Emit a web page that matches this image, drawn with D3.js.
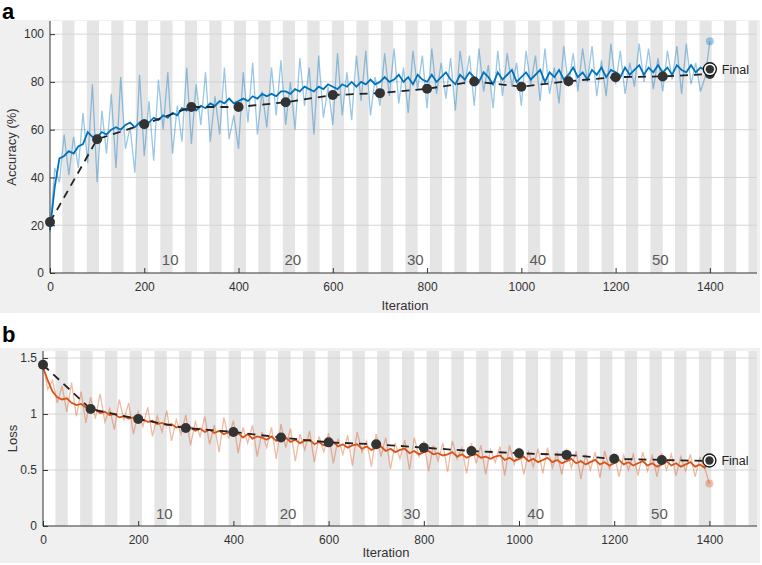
<!DOCTYPE html>
<html>
<head>
<meta charset="utf-8">
<script src="https://cdn.jsdelivr.net/npm/d3@7"></script>
<style>
  body { margin: 0; background: #fff; font-family: "Liberation Sans", Arial, sans-serif; }
</style>
</head>
<body>
<div id="chart"></div>
<script>
// one value every 10 iterations, iteration 0..1400
const iterStep = 10;

const accRaw = [
  17, 44, 38, 58, 41, 57, 44, 67, 46, 79, 38,
  68, 50, 75, 44, 82, 52, 61, 42, 83, 49,
  72, 47, 81, 60, 84, 50, 70, 55, 86, 54,
  79, 62, 84, 55, 74, 58, 86, 56, 66, 52,
  84, 63, 88, 58, 76, 61, 86, 66, 89, 62,
  80, 60, 90, 70, 86, 58, 91, 65, 78, 62,
  92, 66, 84, 64, 91, 72, 93, 66, 82, 70,
  92, 74, 94, 71, 86, 67, 93, 77, 91, 69,
  94, 75, 88, 73, 90, 68, 93, 79, 91, 70,
  94, 76, 87, 69, 93, 74, 92, 78, 88, 70,
  93, 79, 91, 72, 94, 75, 86, 71, 95, 78,
  92, 76, 94, 80, 95, 74, 89, 74, 96, 79,
  93, 75, 88, 78, 96, 80, 94, 77, 90, 76,
  93, 81, 95, 75, 96, 79, 88, 76, 82, 97
];

const accSmooth = [
  18, 36, 48, 49, 51, 50, 53, 54, 59, 57, 57,
  59, 58, 60, 61, 60, 62, 63, 61, 63, 64,
  63, 65, 64, 66, 65, 67, 66, 69, 68, 70,
  68, 70, 69, 71, 70, 72, 71, 73, 71, 72,
  73, 72, 74, 73, 75, 74, 75, 74, 76, 76,
  75, 77, 76, 78, 77, 76, 78, 77, 79, 78,
  77, 79, 78, 80, 78, 80, 79, 81, 79, 80,
  82, 80, 81, 83, 80, 82, 79, 83, 81, 80,
  83, 80, 82, 84, 81, 79, 83, 81, 84, 82,
  80, 84, 82, 79, 84, 81, 83, 85, 80, 82,
  84, 81, 83, 85, 80, 84, 82, 85, 81, 83,
  86, 82, 84, 81, 85, 83, 86, 82, 85, 84,
  82, 86, 83, 85, 87, 83, 86, 84, 87, 84,
  86, 83, 87, 85, 84, 87, 84, 86, 85, 84
];

const lossRaw = [
  1.45, 1.22, 1.30, 1.10, 1.25, 1.02, 1.28, 0.98, 1.20, 0.92, 1.15,
  0.96, 1.18, 0.93, 1.05, 0.86, 1.13, 0.95, 1.10, 0.82, 1.02,
  0.89, 1.06, 0.80, 0.98, 0.84, 1.03, 0.76, 0.95, 0.82, 0.99,
  0.72, 0.93, 0.80, 0.98, 0.73, 0.90, 0.66, 0.97, 0.78, 0.94,
  0.65, 0.88, 0.74, 0.90, 0.62, 0.84, 0.70, 0.88, 0.60, 0.91,
  0.70, 0.87, 0.58, 0.82, 0.68, 0.85, 0.57, 0.80, 0.66, 0.83,
  0.56, 0.78, 0.64, 0.81, 0.54, 0.84, 0.66, 0.76, 0.53, 0.82,
  0.62, 0.79, 0.51, 0.74, 0.60, 0.77, 0.50, 0.79, 0.62, 0.76,
  0.49, 0.72, 0.58, 0.74, 0.48, 0.76, 0.60, 0.70, 0.47, 0.74,
  0.56, 0.72, 0.46, 0.68, 0.57, 0.71, 0.45, 0.72, 0.55, 0.70,
  0.46, 0.66, 0.53, 0.69, 0.47, 0.70, 0.52, 0.65, 0.46, 0.69,
  0.52, 0.67, 0.42, 0.64, 0.50, 0.66, 0.43, 0.67, 0.51, 0.65,
  0.44, 0.63, 0.50, 0.64, 0.45, 0.66, 0.49, 0.63, 0.44, 0.65,
  0.50, 0.64, 0.45, 0.62, 0.49, 0.64, 0.44, 0.61, 0.52, 0.38
];

const lossSmooth = [
  1.42, 1.30, 1.20, 1.15, 1.13, 1.14, 1.10, 1.08, 1.09, 1.06, 1.03,
  1.04, 1.01, 1.02, 0.99, 1.00, 0.97, 0.98, 0.96, 0.97, 0.94,
  0.95, 0.93, 0.94, 0.91, 0.92, 0.90, 0.91, 0.88, 0.89, 0.86,
  0.88, 0.85, 0.87, 0.84, 0.86, 0.83, 0.85, 0.82, 0.84, 0.81,
  0.83, 0.79, 0.82, 0.78, 0.80, 0.79, 0.77, 0.80, 0.76, 0.78,
  0.79, 0.75, 0.77, 0.74, 0.76, 0.77, 0.73, 0.75, 0.72, 0.74,
  0.75, 0.71, 0.73, 0.70, 0.72, 0.73, 0.69, 0.71, 0.68, 0.70,
  0.71, 0.67, 0.69, 0.66, 0.68, 0.69, 0.65, 0.67, 0.64, 0.66,
  0.67, 0.64, 0.65, 0.63, 0.64, 0.66, 0.62, 0.64, 0.61, 0.63,
  0.64, 0.61, 0.62, 0.60, 0.62, 0.63, 0.59, 0.61, 0.58, 0.60,
  0.62, 0.58, 0.60, 0.57, 0.59, 0.61, 0.57, 0.59, 0.56, 0.58,
  0.60, 0.56, 0.58, 0.55, 0.57, 0.59, 0.55, 0.57, 0.54, 0.56,
  0.59, 0.55, 0.57, 0.54, 0.56, 0.58, 0.54, 0.56, 0.53, 0.55,
  0.58, 0.54, 0.56, 0.53, 0.55, 0.57, 0.53, 0.55, 0.52, 0.57
];

const valIter = [0, 100, 200, 300, 400, 500, 600, 700, 800, 900, 1000, 1100, 1200, 1300, 1400];
const valAcc = [21.3, 56, 62.3, 69.5, 69.5, 71.5, 74.5, 75.3, 77.1, 80.2, 78, 80.3, 82, 82.3, 83.3];
const valLoss = [1.44, 1.045, 0.955, 0.875, 0.84, 0.79, 0.747, 0.73, 0.70, 0.67, 0.65, 0.635, 0.60, 0.59, 0.58];

const finalIter = 1400;
const finalAcc = 85.3;
const finalLoss = 0.585;

const itersPerEpoch = 26;
const epochLabels = [10, 20, 30, 40, 50];
const xTicks = [0, 200, 400, 600, 800, 1000, 1200, 1400];
const accTicks = [0, 20, 40, 60, 80, 100];
const lossTicks = [0, 0.5, 1, 1.5];
const lossTickLabels = ["0", "0.5", "1", "1.5"];

const width = 762, height = 565;
const svg = d3.select("#chart").append("svg")
  .attr("width", width)
  .attr("height", height);

function drawPanel(p) {
  const g = svg.append("g");

  // figure background
  g.append("rect")
    .attr("x", 0).attr("y", p.bgTop)
    .attr("width", 760).attr("height", p.bgBottom - p.bgTop)
    .attr("fill", "#f0f0f0");

  const x = d3.scaleLinear().domain([0, 1500]).range([p.left, p.right]);
  const y = d3.scaleLinear().domain(p.yDomain).range([p.bottom, p.top]);

  g.append("rect")
    .attr("x", p.left).attr("y", p.top)
    .attr("width", p.right - p.left).attr("height", p.bottom - p.top)
    .attr("fill", "#fff");

  // epoch shading, every second epoch
  const epochs = d3.range(Math.ceil(1500 / itersPerEpoch)).filter(e => e % 2 == 1);
  g.selectAll(".stripe")
    .data(epochs)
    .join("rect")
    .attr("x", e => x(e * itersPerEpoch))
    .attr("y", p.top)
    .attr("width", e => x(Math.min(1500, (e + 1) * itersPerEpoch)) - x(e * itersPerEpoch))
    .attr("height", p.bottom - p.top)
    .attr("fill", "#e5e5e5");

  // grid
  g.selectAll(".grid")
    .data(p.yTicks.filter(v => v > 0))
    .join("line")
    .attr("x1", p.left).attr("x2", p.right)
    .attr("y1", d => y(d)).attr("y2", d => y(d))
    .attr("stroke", "#d4d4d4")
    .attr("stroke-width", 1);

  // epoch numbers
  g.selectAll(".epoch")
    .data(epochLabels)
    .join("text")
    .attr("x", d => x(d * itersPerEpoch - 5))
    .attr("y", p.epochY)
    .attr("text-anchor", "middle")
    .attr("font-size", "15px")
    .attr("fill", "#5a5a5a")
    .text(d => d);

  const line = d3.line()
    .x((d, i) => x(i * iterStep))
    .y(d => y(d));

  g.append("path")
    .datum(p.raw)
    .attr("d", line)
    .attr("fill", "none")
    .attr("stroke", p.color)
    .attr("stroke-opacity", 0.4)
    .attr("stroke-width", 1.3);

  g.append("path")
    .datum(p.smooth)
    .attr("d", line)
    .attr("fill", "none")
    .attr("stroke", p.color)
    .attr("stroke-width", 1.8);

  // last mini-batch value
  g.append("circle")
    .attr("cx", x((p.raw.length - 1) * iterStep))
    .attr("cy", y(p.raw[p.raw.length - 1]))
    .attr("r", 4)
    .attr("fill", p.color)
    .attr("fill-opacity", 0.35);

  // validation
  g.append("path")
    .datum(p.val)
    .attr("d", d3.line().x((d, i) => x(valIter[i])).y(d => y(d)))
    .attr("fill", "none")
    .attr("stroke", "#222")
    .attr("stroke-width", 1.8)
    .attr("stroke-dasharray", "8,6");

  g.selectAll(".val")
    .data(p.val)
    .join("circle")
    .attr("cx", (d, i) => x(valIter[i]))
    .attr("cy", d => y(d))
    .attr("r", 5)
    .attr("fill", "#333");

  // final marker
  g.append("circle")
    .attr("cx", x(finalIter)).attr("cy", y(p.final))
    .attr("r", 6.5)
    .attr("fill", "#fff")
    .attr("stroke", "#111")
    .attr("stroke-width", 1.3);
  g.append("circle")
    .attr("cx", x(finalIter)).attr("cy", y(p.final))
    .attr("r", 4.2)
    .attr("fill", "#333");
  g.append("text")
    .attr("x", x(finalIter) + 12)
    .attr("y", y(p.final) + 4.5)
    .attr("font-size", "12.5px")
    .attr("fill", "#222")
    .text("Final");

  // axes
  const xAxis = d3.axisBottom(x).tickValues(xTicks).tickFormat(d3.format("d"))
    .tickSizeInner(-5).tickSizeOuter(0).tickPadding(9);
  const gx = g.append("g")
    .attr("transform", `translate(0, ${p.bottom})`)
    .call(xAxis);
  const yAxis = d3.axisLeft(y).tickValues(p.yTicks).tickFormat((d, i) => p.yTickLabels[i])
    .tickSizeInner(-5).tickSizeOuter(0).tickPadding(6);
  const gy = g.append("g")
    .attr("transform", `translate(${p.left}, 0)`)
    .call(yAxis);
  [gx, gy].forEach(a => {
    a.selectAll("path").attr("stroke", "#333").attr("d", a === gx
      ? `M${p.left},0H${p.right}` : `M0,${p.top}V${p.bottom}`);
    a.selectAll("line").attr("stroke", "#333");
    a.selectAll("text")
      .attr("font-size", "12px")
      .attr("font-family", "Liberation Sans, Arial, sans-serif")
      .attr("fill", "#333");
  });

  g.append("text")
    .attr("x", p.xLabelX)
    .attr("y", p.xLabelY)
    .attr("text-anchor", "middle")
    .attr("font-size", "13px")
    .attr("fill", "#333")
    .text("Iteration");

  g.append("text")
    .attr("transform", `translate(${p.yLabelX}, ${(p.top + p.bottom) / 2}) rotate(-90)`)
    .attr("text-anchor", "middle")
    .attr("font-size", "13px")
    .attr("fill", "#333")
    .text(p.yLabel);

  g.append("text")
    .attr("x", 2)
    .attr("y", p.letterY)
    .attr("font-size", "22px")
    .attr("font-weight", "bold")
    .attr("fill", "#000")
    .text(p.letter);
}

drawPanel({
  letter: "a", letterY: 19,
  bgTop: 20, bgBottom: 313,
  left: 50, right: 757, top: 21, bottom: 273,
  yDomain: [0, 105.5], yTicks: accTicks, yTickLabels: accTicks.map(String),
  raw: accRaw, smooth: accSmooth, val: valAcc, final: finalAcc,
  color: "#0072BD",
  epochY: 265, xLabelX: 405, xLabelY: 310, yLabelX: 16, yLabel: "Accuracy (%)"
});

drawPanel({
  letter: "b", letterY: 342,
  bgTop: 348, bgBottom: 563,
  left: 43, right: 757, top: 351, bottom: 526,
  yDomain: [0, 1.563], yTicks: lossTicks, yTickLabels: lossTickLabels,
  raw: lossRaw, smooth: lossSmooth, val: valLoss, final: finalLoss,
  color: "#D95319",
  epochY: 519, xLabelX: 386, xLabelY: 557, yLabelX: 17, yLabel: "Loss"
});
</script>
</body>
</html>
